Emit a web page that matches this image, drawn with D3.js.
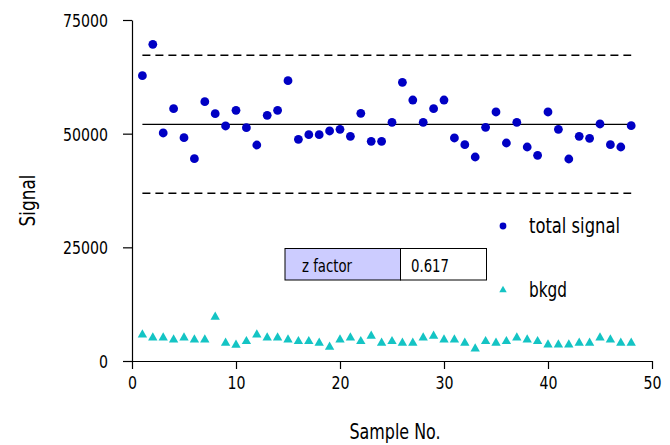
<!DOCTYPE html>
<html>
<head>
<meta charset="utf-8">
<script src="https://cdn.jsdelivr.net/npm/d3@7"></script>
<style>
  body { margin: 0; background: #fff; }
  text { font-family: "DejaVu Sans", sans-serif; font-stretch: condensed; fill: #000; }
</style>
</head>
<body>
<div id="chart"></div>
<script>
// sample numbers 1..48
const samples = d3.range(1, 49);

// total signal per sample
const totalSignal = [
  62750, 69660, 50150, 55490, 49110, 44490, 57030, 54390, 51690, 55140,
  51310, 47510, 54040, 55140, 61650, 48760, 49770, 49770, 50590, 50960,
  49420, 54480, 48320, 48320, 52500, 61300, 57400, 52500, 55490, 57400,
  49050, 47570, 44870, 51400, 54770, 47950, 52500, 47070, 45240, 54770,
  50960, 44430, 49420, 48980, 52130, 47570, 47070, 51750
];

// background per sample
const bkgd = [
  5780, 5120, 5120, 4680, 5120, 4680, 4680, 9680, 3960, 3520,
  4330, 5780, 5120, 5120, 4680, 4330, 4330, 3960, 3080, 4680,
  5120, 4330, 5500, 3960, 4330, 3960, 3960, 5120, 5500, 4680,
  4680, 3960, 2710, 4330, 3960, 4330, 5120, 4680, 4330, 3590,
  3590, 3590, 3960, 3960, 5120, 4680, 3960, 3960
];

// reference lines: mean and mean +/- 3 sd
const meanLine = 52050;
const upperLine = 67250;
const lowerLine = 36900;

const xTicks = [0, 10, 20, 30, 40, 50];
const yTicks = [0, 25000, 50000, 75000];
const zFactor = "0.617";

const width = 670, height = 445;
const margin = { top: 20, right: 18, bottom: 84, left: 132 };

const svg = d3.select("#chart")
  .append("svg")
  .attr("width", width)
  .attr("height", height);

const x = d3.scaleLinear().domain([0, 50]).range([margin.left, width - margin.right]);
const y = d3.scaleLinear().domain([0, 75000]).range([height - margin.bottom, margin.top]);

// narrow glyphs: squeeze each text to the width it has in the picture (~0.47em per char)
function squeeze(sel, perChar) {
  sel.each(function () {
    const t = d3.select(this);
    const n = t.text().length;
    t.attr("textLength", n * perChar).attr("lengthAdjust", "spacingAndGlyphs");
  });
}

// axes
const xAxis = svg.append("g")
  .attr("transform", `translate(0,${height - margin.bottom})`)
  .call(d3.axisBottom(x).tickValues(xTicks).tickSize(8).tickSizeOuter(0).tickPadding(7));

const yAxis = svg.append("g")
  .attr("transform", `translate(${margin.left},0)`)
  .call(d3.axisLeft(y).tickValues(yTicks).tickSize(9).tickSizeOuter(0).tickPadding(15).tickFormat(d3.format("d")));

[xAxis, yAxis].forEach(g => {
  g.selectAll("path.domain").attr("stroke", "#000").attr("stroke-width", 1.2);
  g.selectAll(".tick line").attr("stroke", "#000").attr("stroke-width", 1.2);
  g.selectAll(".tick text").style("font-size", "18px").attr("fill", "#000")
    .call(squeeze, 9);
});
yAxis.selectAll(".tick text").attr("dy", "0.36em");

// axis titles
svg.append("text")
  .attr("x", 395)
  .attr("y", 439)
  .attr("text-anchor", "middle")
  .style("font-size", "22px")
  .attr("textLength", 91).attr("lengthAdjust", "spacingAndGlyphs")
  .text("Sample No.");

svg.append("text")
  .attr("transform", `translate(35,${(margin.top + height - margin.bottom) / 2 + 10}) rotate(-90)`)
  .attr("text-anchor", "middle")
  .style("font-size", "22px")
  .attr("textLength", 52).attr("lengthAdjust", "spacingAndGlyphs")
  .text("Signal");

// reference lines
const lineG = svg.append("g");
[
  { v: meanLine, dash: null },
  { v: upperLine, dash: "8,5" },
  { v: lowerLine, dash: "8,5" }
].forEach(l => {
  lineG.append("line")
    .attr("x1", x(samples[0]))
    .attr("x2", x(samples[samples.length - 1]))
    .attr("y1", y(l.v))
    .attr("y2", y(l.v))
    .attr("stroke", "#000")
    .attr("stroke-width", 1.4)
    .attr("stroke-dasharray", l.dash);
});

// total signal dots
svg.append("g")
  .selectAll("circle")
  .data(totalSignal)
  .enter()
  .append("circle")
  .attr("cx", (d, i) => x(samples[i]))
  .attr("cy", d => y(d))
  .attr("r", 4.4)
  .attr("fill", "#0000c4");

// background triangles
const tri = d3.symbol().type(d3.symbolTriangle).size(38);
svg.append("g")
  .selectAll("path")
  .data(bkgd)
  .enter()
  .append("path")
  .attr("transform", (d, i) => `translate(${x(samples[i])},${y(d)})`)
  .attr("d", tri)
  .attr("fill", "#14c4c4");

// z factor box
const box = svg.append("g");
box.append("rect")
  .attr("x", 285).attr("y", 248.5).attr("width", 115.5).attr("height", 31.5)
  .attr("fill", "#ccccff").attr("stroke", "#000").attr("stroke-width", 1);
box.append("rect")
  .attr("x", 400.5).attr("y", 248.5).attr("width", 86).attr("height", 31.5)
  .attr("fill", "#fff").attr("stroke", "#000").attr("stroke-width", 1);
box.append("text")
  .attr("x", 302).attr("y", 272)
  .style("font-size", "17px")
  .attr("textLength", 50).attr("lengthAdjust", "spacingAndGlyphs")
  .text("z  factor");
box.append("text")
  .attr("x", 411).attr("y", 272)
  .style("font-size", "17px")
  .attr("textLength", 38).attr("lengthAdjust", "spacingAndGlyphs")
  .text(zFactor);

// legend
const legend = svg.append("g");
legend.append("circle")
  .attr("cx", 503).attr("cy", 226).attr("r", 3.4).attr("fill", "#0000c4");
legend.append("text")
  .attr("x", 529).attr("y", 233)
  .style("font-size", "21px")
  .attr("textLength", 91).attr("lengthAdjust", "spacingAndGlyphs")
  .text("total  signal");
legend.append("path")
  .attr("transform", "translate(503,290)")
  .attr("d", d3.symbol().type(d3.symbolTriangle).size(24))
  .attr("fill", "#14c4c4");
legend.append("text")
  .attr("x", 529).attr("y", 297)
  .style("font-size", "21px")
  .attr("textLength", 38).attr("lengthAdjust", "spacingAndGlyphs")
  .text("bkgd");
</script>
</body>
</html>
